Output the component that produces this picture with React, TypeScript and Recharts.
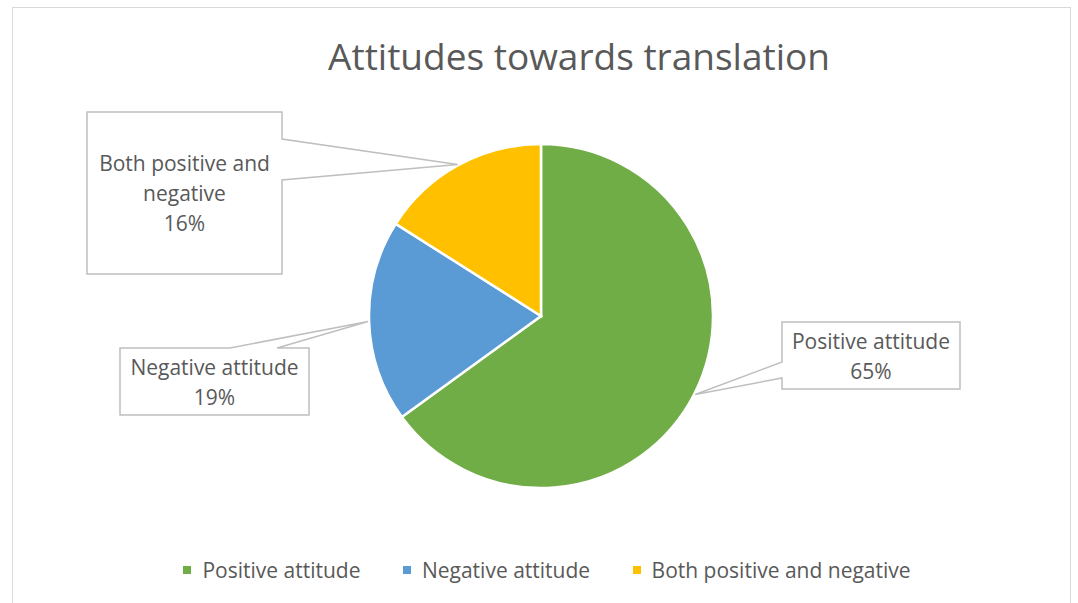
import React from 'react';
import { PieChart, Pie, Cell, Legend } from 'recharts';

const categories = ['Positive attitude', 'Negative attitude', 'Both positive and negative'];
const values = [65, 19, 16];
const percentLabels = ['65%', '19%', '16%'];
const labelLines: string[][] = [['Positive attitude'], ['Negative attitude'], ['Both positive and', 'negative']];
const colors = ['#70AD47', '#5B9BD5', '#FFC000'];

const data = categories.map((name, i) => ({ name, value: values[i] }));

const FONT = '"Open Sans", "DejaVu Sans", sans-serif';
const TEXT = '#595959';
const BOX_STROKE = '#BFBFBF';

// callout box layout relative to pie centre: [x, y, w, h], plus notch side & base offsets
const boxes = [
  { dx: 241, dy: 6, w: 178, h: 67, side: 'left', b1: 40, b2: 56 },
  { dx: -421, dy: 32, w: 189, h: 67, side: 'top', b1: 110, b2: 157 },
  { dx: -454, dy: -204, w: 195, h: 162, side: 'right', b1: 27, b2: 68 },
];

const RAD = Math.PI / 180;

const renderLabel = (props: any) => {
  const { cx, cy, midAngle, outerRadius, index } = props;
  const tx = cx + (outerRadius + 1) * Math.cos(-midAngle * RAD);
  const ty = cy + (outerRadius + 1) * Math.sin(-midAngle * RAD);
  const b = boxes[index];
  const x0 = cx + b.dx;
  const y0 = cy + b.dy;
  const x1 = x0 + b.w;
  const y1 = y0 + b.h;
  let d = '';
  if (b.side === 'left') {
    d = `M${x0},${y0} L${x1},${y0} L${x1},${y1} L${x0},${y1} L${x0},${y0 + b.b2} L${tx},${ty} L${x0},${y0 + b.b1} Z`;
  } else if (b.side === 'top') {
    d = `M${x0},${y0} L${x0 + b.b1},${y0} L${tx},${ty} L${x0 + b.b2},${y0} L${x1},${y0} L${x1},${y1} L${x0},${y1} Z`;
  } else {
    d = `M${x0},${y0} L${x1},${y0} L${x1},${y0 + b.b1} L${tx},${ty} L${x1},${y0 + b.b2} L${x1},${y1} L${x0},${y1} Z`;
  }
  const lines = [...labelLines[index], percentLabels[index]];
  const lh = 30;
  const midX = (x0 + x1) / 2;
  const midY = (y0 + y1) / 2;
  const firstBaseline = midY - ((lines.length - 1) * lh) / 2 + 8;
  return (
    <g key={`lab-${index}`}>
      <path d={d} fill="#FFFFFF" stroke={BOX_STROKE} strokeWidth={1.5} />
      {lines.map((t, i) => (
        <text
          key={i}
          x={midX}
          y={firstBaseline + i * lh}
          textAnchor="middle"
          fill={TEXT}
          fontFamily={FONT}
          fontSize={21}
        >
          {t}
        </text>
      ))}
    </g>
  );
};

const renderLegend = () => (
  <div style={{ display: 'flex', justifyContent: 'center', fontFamily: FONT, fontSize: 21, color: TEXT, gap: 42.5, paddingLeft: 16 }}>
    {categories.map((c, i) => (
      <div key={c} style={{ display: 'flex', alignItems: 'center' }}>
        <span style={{ width: 8, height: 8, background: colors[i], display: 'inline-block', marginRight: 11 }} />
        <span>{c}</span>
      </div>
    ))}
  </div>
);

export default function App() {
  return (
    <div style={{ position: 'absolute', left: 0, top: 0, width: 1078, height: 603, background: '#fff', overflow: 'hidden' }}>
      <div style={{ position: 'absolute', left: 12, top: 7, width: 1059, height: 620, border: '1px solid #D9D9D9', boxSizing: 'border-box' }} />
      <div
        style={{
          position: 'absolute',
          left: 0,
          width: 1158,
          top: 31,
          textAlign: 'center',
          fontFamily: FONT,
          fontSize: 37,
          color: TEXT,
          lineHeight: '50px',
        }}
      >
        Attitudes towards translation
      </div>
      <div style={{ position: 'absolute', left: 0, top: 0 }}>
        <PieChart width={1078} height={603} margin={{ top: 0, right: 0, bottom: 0, left: 0 }}>
          <Pie
            data={data}
            dataKey="value"
            nameKey="name"
            cx={541}
            cy={316}
            outerRadius={172}
            startAngle={90}
            endAngle={-270}
            stroke="#FFFFFF"
            strokeWidth={2.5}
            label={renderLabel}
            labelLine={false}
            isAnimationActive={false}
          >
            {data.map((d, i) => (
              <Cell key={d.name} fill={colors[i]} />
            ))}
          </Pie>
          <Legend content={renderLegend} wrapperStyle={{ top: 556, left: 0, width: 1078 }} />
        </PieChart>
      </div>
    </div>
  );
}
